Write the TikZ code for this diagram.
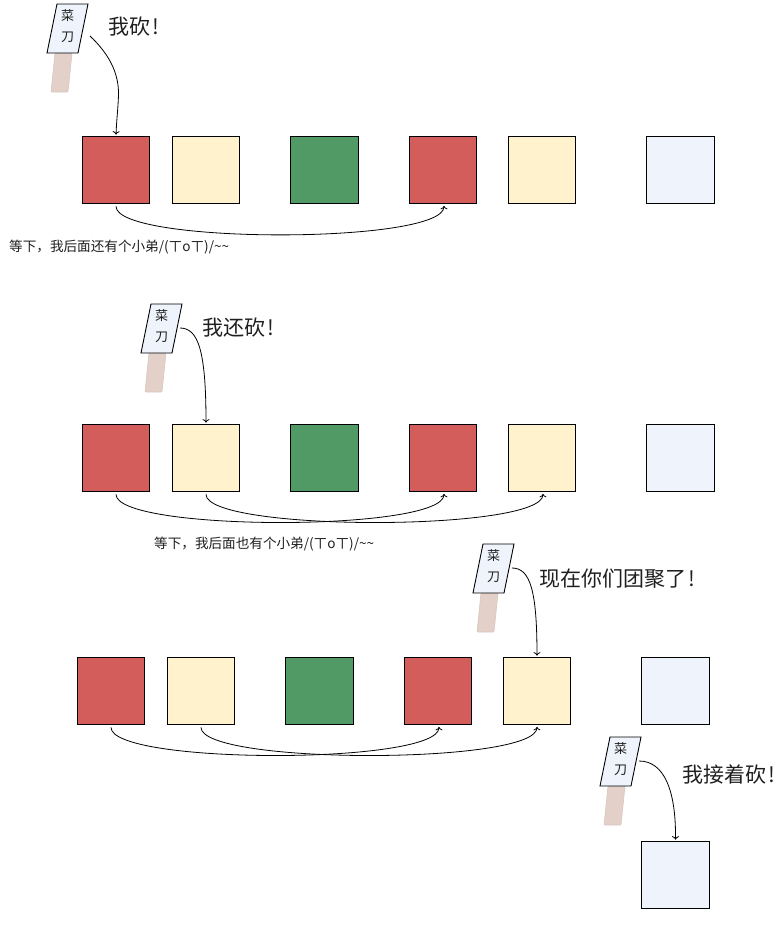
\documentclass[tikz,border=0pt]{standalone}
\usepackage{fontspec}
\usetikzlibrary{arrows.meta}
\setmainfont{Noto Sans CJK SC}
\definecolor{palettered}{HTML}{D35D5A}
\definecolor{palettecream}{HTML}{FFF2CC}
\definecolor{palettegreen}{HTML}{519A65}
\definecolor{paletteblue}{HTML}{EFF4FC}
\definecolor{palettehandle}{HTML}{E3D0C9}
\definecolor{paletteedge}{HTML}{D9C6BE}
\definecolor{palettetext}{HTML}{1F1F1F}
\tikzset{
    >={To[length=3.5pt,width=7pt]},
    block/.style={draw=black, minimum size=67.8pt, inner sep=0pt, line width=0.9pt},
    shout/.style={anchor=west, inner sep=0pt, text=palettetext, font=\fontsize{21}{25}\selectfont},
    moan/.style={anchor=west, inner sep=0pt, text=palettetext, font=\fontsize{13.6}{16}\selectfont},
    hop/.style={->, line width=0.8pt, shorten <=2pt, shorten >=1.5pt},
    chop/.style={->, line width=0.8pt, shorten >=1pt},
    bladetext/.style={align=center, inner sep=0pt, text=palettetext, font=\fontsize{13}{21.5}\selectfont}
}
\newcommand{\bang}{\kern2.5pt!}
% #1 name, #2 top left corner of the blade
\newcommand{\cutter}[2]{
    \begin{scope}[shift={(#2)}]
        \draw[fill=palettehandle, draw=paletteedge, line width=0.6pt, rounded corners=0.8pt] (8,49) -- (25,49) -- (21,88) -- (4,88) -- cycle;
        \draw[fill=paletteblue, draw=black, line width=0.9pt] (10,0) -- (41,0) -- (31,49) -- (0,49) -- cycle;
        \node[bladetext] (#1) at (20.5,22) {菜\\刀};
    \end{scope}
}
\begin{document}
\begin{tikzpicture}[x=1pt, y=-1pt]
\useasboundingbox (0,0) rectangle (780,927);
% first row
\foreach \n/\x/\c in {1/116/palettered, 2/206/palettecream, 3/324.8/palettegreen, 4/443/palettered, 5/542/palettecream, 6/680.8/paletteblue}
    \node[block, fill=\c] (a\n) at (\x,170) {};
\cutter{ka}{47,4}
\coordinate (kaout) at (90,36);
\node[shout] (sa) at (108,27) {我砍\bang};
\draw[chop] (kaout) .. controls (108,53) and (119,72) .. (118.5,95) .. controls (118,110) and (116.5,120) .. (a1.north);
\draw[hop] (a1.south) .. controls +(0,40) and +(0,40) .. ([xshift=1pt]a4.south);
\node[moan] (ma) at (9,247.5) {等下，我后面还有个小弟/(ㄒoㄒ)/\textasciitilde\textasciitilde};
% second row
\foreach \n/\x/\c in {1/116/palettered, 2/206/palettecream, 3/324.8/palettegreen, 4/443/palettered, 5/542/palettecream, 6/680.8/paletteblue}
    \node[block, fill=\c] (b\n) at (\x,458) {};
\cutter{kb}{141,304}
\coordinate (kbout) at (180,328);
\node[shout] (sb) at (202,328) {我还砍\bang};
\draw[chop] (kbout) .. controls (198,328) and (206,350) .. (b2.north);
\draw[hop] (b1.south) .. controls +(0,39.5) and +(0,39.5) .. ([xshift=1pt]b4.south);
\draw[hop] (b2.south) .. controls +(0,39.5) and +(0,39.5) .. ([xshift=1pt]b5.south);
\node[moan] (mb) at (154,544.5) {等下，我后面也有个小弟/(ㄒoㄒ)/\textasciitilde\textasciitilde};
% third row
\foreach \n/\x/\c in {1/111/palettered, 2/201/palettecream, 3/319.5/palettegreen, 4/438/palettered, 5/537/palettecream, 6/675.5/paletteblue}
    \node[block, fill=\c] (c\n) at (\x,691) {};
\cutter{kc}{473,544}
\coordinate (kcout) at (512,568);
\node[shout] (sc) at (539,579) {现在你们团聚了\bang};
\draw[chop] (kcout) .. controls (530,568) and (537,590) .. (c5.north);
\draw[hop] (c1.south) .. controls +(0,39.5) and +(0,39.5) .. ([xshift=1pt]c4.south);
\draw[hop] (c2.south) .. controls +(0,39.5) and +(0,39.5) .. (c5.south);
% last block
\node[block, fill=paletteblue] (d1) at (675.5,875) {};
\cutter{kd}{600,737}
\coordinate (kdout) at (639,761);
\node[shout] (sd) at (682,774) {我接着砍\bang};
\draw[chop] (kdout) .. controls (664,761) and (676,790) .. (d1.north);
\end{tikzpicture}
\end{document}
